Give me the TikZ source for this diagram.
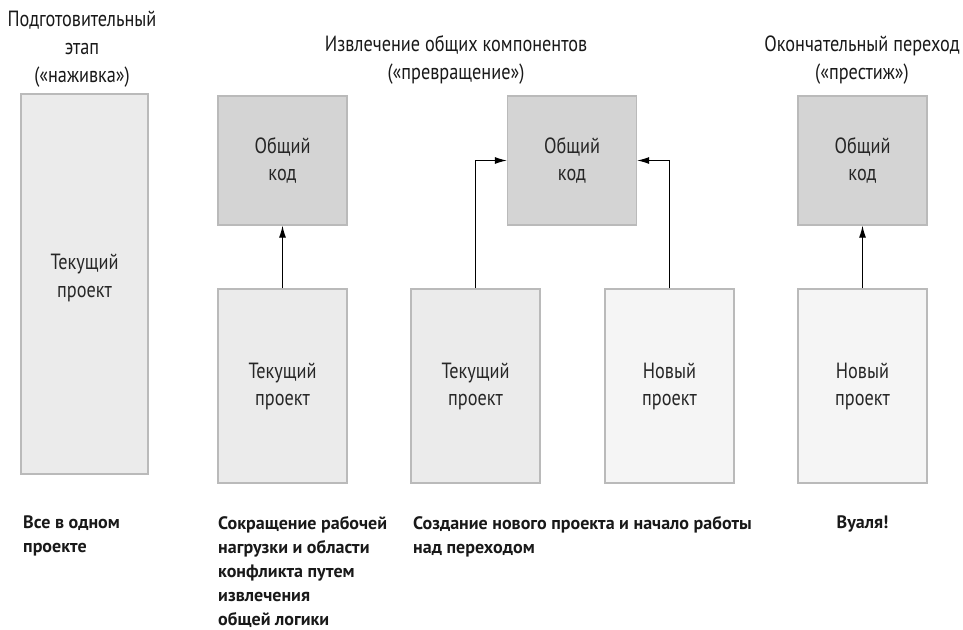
\documentclass[tikz,border=0pt]{standalone}
\usepackage{fontspec}
\setmainfont[FakeStretch=0.83]{PT Sans}
\newfontfamily\capfont{PT Sans}
\usetikzlibrary{arrows.meta}
\begin{document}
\begin{tikzpicture}[x=1pt,y=-1pt,
  box/.style={draw=black!27, line width=1.3pt, minimum width=129pt, inner sep=0pt,
    align=center, font=\fontsize{22}{27}\selectfont, text=black!85},
  boxtext/.style={align=center, inner sep=0pt, font=\fontsize{22}{28}\selectfont, text=black!85},
  cur/.style={box, fill=black!8},
  common/.style={box, fill=black!17, minimum height=129pt},
  newp/.style={box, fill=black!4},
  title/.style={align=center, font=\fontsize{22}{28}\selectfont, text=black!90, inner sep=0pt},
  caption/.style={align=left, anchor=north west, font=\capfont\bfseries\fontsize{18}{24}\selectfont, text=black!90, inner sep=0pt},
  arr/.style={-{Latex[length=12pt,width=7pt]}, line width=1.1pt}]
\useasboundingbox (0,0) rectangle (963,629);
\fill[white] (0,0) rectangle (963,629);
% titles
\node[title] (t1) at (82,49) {Подготовительный\\этап\\(«наживка»)};
\node[title] (t2) at (456,60) {Извлечение общих компонентов\\(«превращение»)};
\node[title] (t3) at (862,60) {Окончательный переход\\(«престиж»)};
% boxes
\node[cur, minimum width=127pt, minimum height=380pt] (b1) at (84.5,284) {};
\node[boxtext] (b1t) at (84.5,277.5) {Текущий\\проект};
\node[common] (c2) at (282.5,160.5) {Общий\\код};
\node[cur, minimum height=194pt] (p2) at (282.5,386) {Текущий\\проект};
\node[common] (c3) at (572,160.5) {Общий\\код};
\node[cur, minimum height=194pt] (p3) at (475.5,386) {Текущий\\проект};
\node[newp, minimum height=194pt] (n3) at (669.5,386) {Новый\\проект};
\node[common] (c4) at (862.5,160.5) {Общий\\код};
\node[newp, minimum height=194pt] (n4) at (862.5,386) {Новый\\проект};
% arrows
\draw[arr] (p2.north) -- (c2.south);
\draw[arr] (n4.north) -- (c4.south);
\draw[arr] (p3.north) |- (c3.west);
\draw[arr] (n3.north) |- (c3.east);
% captions
\node[caption] (k1) at (23,516) {Все в одном\\проекте};
\node[caption] (k2) at (218,516) {Сокращение рабочей\\нагрузки и области\\конфликта путем\\извлечения\\общей логики};
\node[caption] (k3) at (413,516) {Создание нового проекта и начало работы\\над переходом};
\node[caption, anchor=north] (k4) at (862.5,516) {Вуаля!};
\end{tikzpicture}
\end{document}
